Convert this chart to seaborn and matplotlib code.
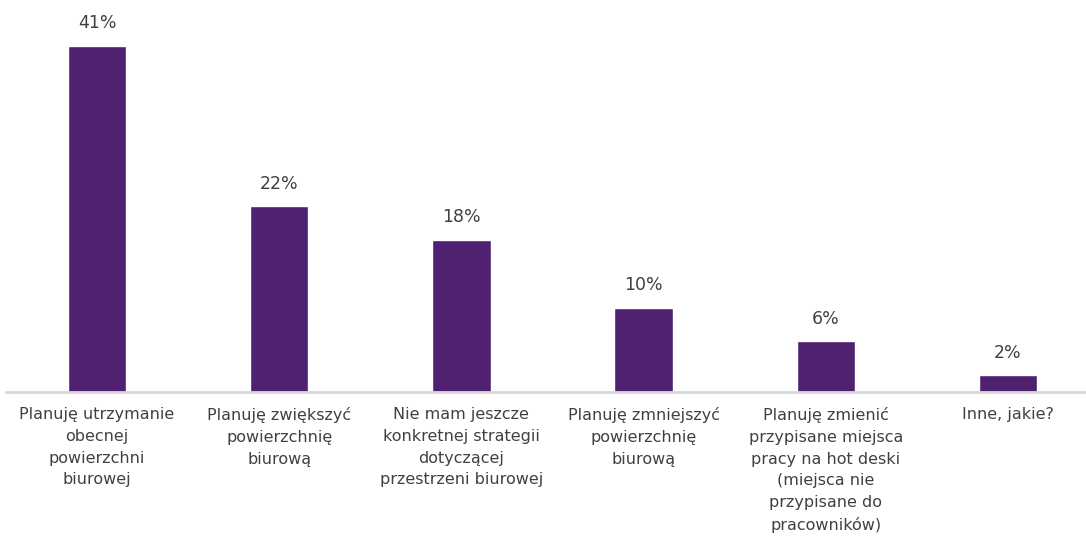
import matplotlib
matplotlib.use("Agg")
import matplotlib.pyplot as plt
import seaborn as sns
import pandas as pd

categories = [
    "Planuję utrzymanie\nobecnej\npowierzchni\nbiurowej",
    "Planuję zwiększyć\npowierzchnię\nbiurową",
    "Nie mam jeszcze\nkonkretnej strategii\ndotyczącej\nprzestrzeni biurowej",
    "Planuję zmniejszyć\npowierzchnię\nbiurową",
    "Planuję zmienić\nprzypisane miejsca\npracy na hot deski\n(miejsca nie\nprzypisane do\npracowników)",
    "Inne, jakie?",
]
values = [41, 22, 18, 10, 6, 2]
value_labels = ["41%", "22%", "18%", "10%", "6%", "2%"]

sns.set_style("white")
plt.rcParams['font.family'] = ['DejaVu Sans']

df = pd.DataFrame({"cat": categories, "val": values})

fig = plt.figure(figsize=(10.86, 5.4), dpi=100)
ax = fig.add_axes([6/1086, 148/540, 1093/1086, 380/540])
sns.barplot(data=df, x="cat", y="val", color="#4F2170", width=0.32, ax=ax,
            saturation=1)
ax.set_ylim(0, 45)
ax.set_xlim(-0.5, 5.5)
for i, (v, lab) in enumerate(zip(values, value_labels)):
    ax.text(i, v + 1.6, lab, ha="center", va="bottom", fontsize=12.5, color="#404040")
for s in ["top", "right", "left"]:
    ax.spines[s].set_visible(False)
ax.spines["bottom"].set_color("#D9D9D9")
ax.spines["bottom"].set_linewidth(2)
ax.set_yticks([])
ax.set_xlabel("")
ax.set_ylabel("")
ax.tick_params(axis="x", length=0, pad=11)
for t in ax.get_xticklabels():
    t.set_fontsize(11.5)
    t.set_color("#404040")
    t.set_linespacing(1.56)
    t.set_verticalalignment("top")
fig.savefig("out.png", dpi=100)
